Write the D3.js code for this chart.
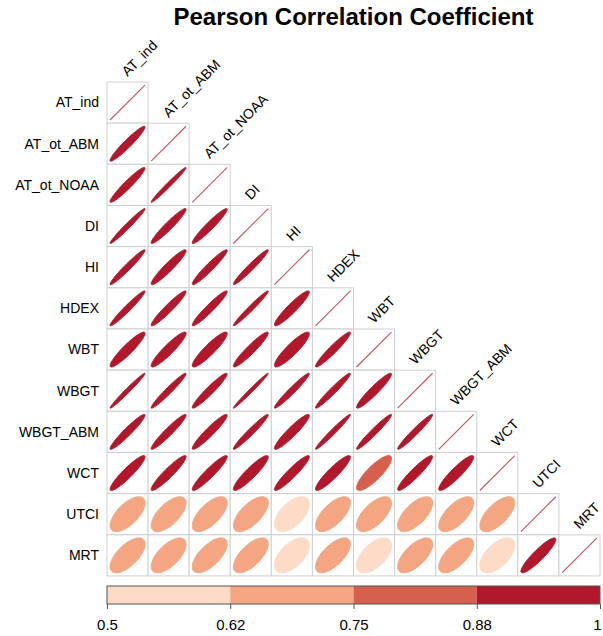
<!DOCTYPE html>
<html>
<head>
<meta charset="utf-8">
<script src="https://cdn.jsdelivr.net/npm/d3@7"></script>
<style>
  body { margin: 0; background: #fff; }
  text { font-family: 'Liberation Sans', Arial, sans-serif; }
</style>
</head>
<body>
<div id="chart"></div>
<script>
const vars = ['AT_ind', 'AT_ot_ABM', 'AT_ot_NOAA', 'DI', 'HI', 'HDEX', 'WBT', 'WBGT', 'WBGT_ABM', 'WCT', 'UTCI', 'MRT']

// lower triangle, row by row (diagonal included)
const corrRows = [
  [1],
  [0.955, 1],
  [0.955, 0.985, 1],
  [0.98, 0.955, 0.955, 1],
  [0.97, 0.945, 0.955, 0.97, 1],
  [0.97, 0.955, 0.955, 0.98, 0.935, 1],
  [0.925, 0.925, 0.915, 0.945, 0.9, 0.955, 1],
  [0.985, 0.97, 0.955, 0.99, 0.97, 0.97, 0.945, 1],
  [0.955, 0.955, 0.945, 0.97, 0.935, 0.98, 0.97, 0.97, 1],
  [0.925, 0.935, 0.935, 0.915, 0.935, 0.915, 0.84, 0.935, 0.915, 1],
  [0.65, 0.65, 0.66, 0.66, 0.57, 0.66, 0.64, 0.65, 0.66, 0.66, 1],
  [0.65, 0.64, 0.66, 0.66, 0.56, 0.66, 0.57, 0.65, 0.66, 0.58, 0.91, 1]
]

const breaks = [0.5, 0.62, 0.75, 0.88, 1]
const binColors = ['#FDDBC7', '#F4A582', '#D6604D', '#B2182B']
const tickLabels = ['0.5', '0.62', '0.75', '0.88', '1']

const width = 603
const height = 636
const grid = { left: 107, top: 82, right: 600, bottom: 576 }

const svg = d3.select('#chart')
  .append('svg')
  .attr('width', width)
  .attr('height', height)

const x = d3.scaleBand().domain(vars).range([grid.left, grid.right])
const y = d3.scaleBand().domain(vars).range([grid.top, grid.bottom])
const s = x.bandwidth()

const color = d3.scaleThreshold()
  .domain(breaks.slice(1, -1))
  .range(binColors)

const cells = []
corrRows.forEach((row, i) => {
  row.forEach((r, j) => {
    cells.push({ row: vars[i], col: vars[j], r: r })
  })
})

// ellipse like corrplot: x = cos(k + acos(r)/2)/2, y = cos(k - acos(r)/2)/2
function ellipse(d) {
  const a = Math.acos(Math.min(1, d.r))
  const cx = x(d.col) + s / 2
  const cy = y(d.row) + s / 2
  const pts = d3.range(99).map(i => {
    const k = i / 98 * 2 * Math.PI
    return [cx + 0.85 * s * Math.cos(k + a / 2) / 2, cy - 0.85 * s * Math.cos(k - a / 2) / 2]
  })
  return d3.line().curve(d3.curveLinearClosed)(pts)
}

const g = svg.append('g')

g.selectAll('rect.cell')
  .data(cells)
  .enter()
  .append('rect')
  .attr('class', 'cell')
  .attr('x', d => x(d.col))
  .attr('y', d => y(d.row))
  .attr('width', s)
  .attr('height', s)
  .attr('fill', 'white')
  .attr('stroke', '#cfcfcf')
  .attr('stroke-width', 1)

g.selectAll('path.ell')
  .data(cells.filter(d => d.r < 1))
  .enter()
  .append('path')
  .attr('class', 'ell')
  .attr('d', ellipse)
  .attr('fill', d => color(d.r))
  .attr('stroke', d => color(d.r))
  .attr('stroke-width', 1)

// diagonal: degenerate ellipse, drawn as a thin line
g.selectAll('line.diag')
  .data(cells.filter(d => d.r >= 1))
  .enter()
  .append('line')
  .attr('class', 'diag')
  .attr('x1', d => x(d.col) + s * 0.075)
  .attr('y1', d => y(d.row) + s * 0.925)
  .attr('x2', d => x(d.col) + s * 0.925)
  .attr('y2', d => y(d.row) + s * 0.075)
  .attr('stroke', '#B2182B')
  .attr('stroke-opacity', 0.75)
  .attr('stroke-width', 1.1)

// row labels
svg.selectAll('text.rowlab')
  .data(vars)
  .enter()
  .append('text')
  .attr('class', 'rowlab')
  .attr('x', grid.left - 8)
  .attr('y', d => y(d) + s / 2)
  .attr('dy', '0.35em')
  .attr('text-anchor', 'end')
  .attr('font-size', 14)
  .text(d => d)

// column labels, rotated 45 deg above diagonal cells
svg.selectAll('text.collab')
  .data(vars)
  .enter()
  .append('text')
  .attr('class', 'collab')
  .attr('transform', d => `translate(${x(d) + s / 2},${y(d) - 5}) rotate(-45)`)
  .attr('font-size', 14)
  .text(d => d)

// title
svg.append('text')
  .attr('x', (grid.left + grid.right) / 2)
  .attr('y', 25)
  .attr('text-anchor', 'middle')
  .attr('font-size', 24)
  .attr('font-weight', 'bold')
  .text('Pearson Correlation Coefficient')

// colour bar with equal-width bins
const barTop = 586
const barH = 18
const barX = d3.scalePoint().domain(tickLabels).range([grid.left, grid.right])

svg.selectAll('rect.bin')
  .data(binColors)
  .enter()
  .append('rect')
  .attr('class', 'bin')
  .attr('x', (d, i) => barX(tickLabels[i]))
  .attr('y', barTop)
  .attr('width', (d, i) => barX(tickLabels[i + 1]) - barX(tickLabels[i]))
  .attr('height', barH)
  .attr('fill', d => d)

svg.append('rect')
  .attr('x', grid.left)
  .attr('y', barTop)
  .attr('width', grid.right - grid.left)
  .attr('height', barH)
  .attr('fill', 'none')
  .attr('stroke', '#555')
  .attr('stroke-width', 1)

const axis = d3.axisBottom(barX).tickSize(5).tickPadding(10)
svg.append('g')
  .attr('transform', `translate(0,${barTop + barH})`)
  .call(axis)
  .call(a => a.select('.domain').remove())
  .call(a => a.selectAll('text').attr('font-size', 15).attr('fill', '#000').attr('font-family', "'Liberation Sans', Arial, sans-serif"))
  .call(a => a.selectAll('text').filter(d => d === '1').attr('dx', '-3'))
  .call(a => a.selectAll('line').attr('stroke', '#555'))
</script>
</body>
</html>
